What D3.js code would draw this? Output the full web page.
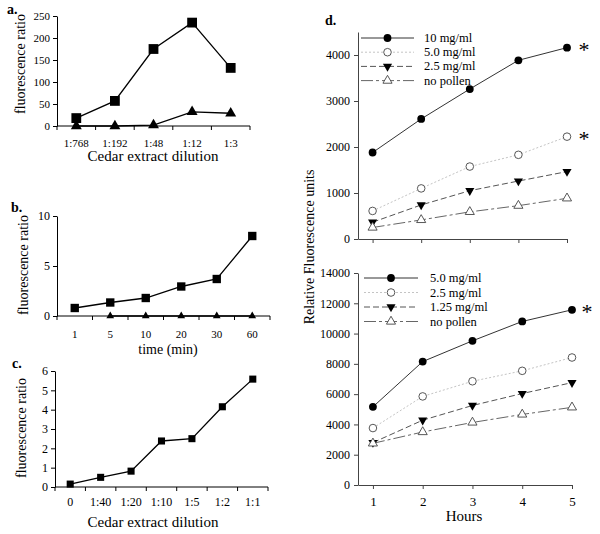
<!DOCTYPE html>
<html><head><meta charset="utf-8">
<script src="https://cdn.jsdelivr.net/npm/d3@7"></script>
<style>
body{margin:0;background:#fff}
svg{display:block}
text{font-family:"Liberation Serif","Times New Roman",serif;fill:#000}
</style>
</head><body>
<svg id="chart" width="600" height="534" font-family="Liberation Serif, Times New Roman, serif"></svg>
<script>
// ---------- DATA ----------
const aCats = ["1:768","1:192","1:48","1:12","1:3"];
const aSquare = [18,57,175,235,132];
const aTriangle = [0,0,2,32,29];
const aTicks = [0,50,100,150,200,250];

const bCats = ["1","5","10","20","30","60"];
const bSquare = [0.8,1.35,1.8,2.95,3.7,8.0];
const bTriangle = [null,0,0,0,0,0];
const bTicks = [0,5,10];

const cCats = ["0","1:40","1:20","1:10","1:5","1:2","1:1"];
const cSquare = [0.15,0.5,0.82,2.38,2.5,4.15,5.58];
const cTicks = [0,1,2,3,4,5,6];

const hours = [1,2,3,4,5];
const dTopLabels = ["10 mg/ml","5.0 mg/ml","2.5 mg/ml","no pollen"];
const dTop10 = [1880,2610,3260,3885,4160];
const dTop5 = [610,1100,1575,1830,2225];
const dTop25 = [365,740,1050,1260,1465];
const dTopNo = [250,415,590,725,885];
const dTopTicks = [0,1000,2000,3000,4000];

const dBotLabels = ["5.0 mg/ml","2.5 mg/ml","1.25 mg/ml","no pollen"];
const dBot5 = [5160,8150,9520,10800,11570];
const dBot25 = [3760,5850,6850,7540,8420];
const dBot125 = [2800,4280,5250,6040,6760];
const dBotNo = [2750,3500,4130,4660,5130];
const dBotTicks = [0,2000,4000,6000,8000,10000,12000,14000];

// ---------- DRAWING ----------
const SERIF = "Liberation Serif, Times New Roman, serif";
const svg = d3.select("#chart");
const fmt = d3.format("d");

function styleAxis(g, color, size){
  g.attr("font-family", SERIF).attr("font-size", size);
  g.selectAll("path.domain").attr("stroke", color).attr("stroke-width",1);
  g.selectAll(".tick line").attr("stroke", color);
  g.selectAll(".tick text").attr("fill","#000").style("font-size", size+"px");
}

function bandPanel(cfg){
  const x = d3.scaleBand().domain(cfg.cats).range([cfg.x0, cfg.x1]);
  const y = d3.scaleLinear().domain([0, cfg.ymax]).range([cfg.y0, cfg.y1]);
  const g = svg.append("g");
  const ya = g.append("g").attr("transform",`translate(${cfg.x0},0)`)
    .call(d3.axisLeft(y).tickValues(cfg.ticks).tickFormat(fmt).tickSize(4).tickSizeOuter(0).tickPadding(3));
  styleAxis(ya,"#000",cfg.yTickFont);
  // x axis line + boundary ticks
  g.append("line").attr("x1",cfg.x0).attr("x2",cfg.x1).attr("y1",cfg.y0).attr("y2",cfg.y0)
    .attr("stroke","#000");
  const bounds = cfg.cats.map(c => x(c)).concat([x.range()[1]]);
  g.selectAll(".bt").data(bounds).enter().append("line")
    .attr("x1",d=>d).attr("x2",d=>d).attr("y1",cfg.y0).attr("y2",cfg.y0+4).attr("stroke","#000");
  const cx = c => x(c) + x.bandwidth()/2;
  g.selectAll(".xl").data(cfg.cats).enter().append("text")
    .attr("x",d=>cx(d)).attr("y",cfg.labelY).attr("text-anchor","middle")
    .style("font-size",cfg.xTickFont+"px").text(d=>d);
  // series
  cfg.series.forEach(s=>{
    const pts = s.values.map((v,i)=>({c:cfg.cats[i], v})).filter(p=>p.v!==null);
    g.append("path").datum(pts)
      .attr("d", d3.line().x(p=>cx(p.c)).y(p=>y(p.v)))
      .attr("fill","none").attr("stroke","#000").attr("stroke-width",1.3);
    g.selectAll(null).data(pts).enter().append("path")
      .attr("transform",p=>`translate(${cx(p.c)},${y(p.v)})`)
      .attr("d", d3.symbol(s.symbol, s.size)())
      .attr("fill","#000");
  });
  // titles
  g.append("text").attr("transform",`translate(${cfg.yTitleX},${cfg.yTitleY}) rotate(-90)`)
    .attr("text-anchor","middle").attr("dominant-baseline","central")
    .style("font-size","14px").text("fluorescence ratio");
  g.append("text").attr("x",cfg.xTitleX).attr("y",cfg.xTitleY).attr("text-anchor","middle")
    .style("font-size",cfg.xTitleFont+"px").text(cfg.xTitle);
  g.append("text").attr("x",cfg.tagX).attr("y",cfg.tagY).style("font-size","14px")
    .style("font-weight","bold").text(cfg.tag);
}

bandPanel({cats:aCats, x0:57, x1:250, y0:126, y1:16, ymax:250, ticks:aTicks, yTickFont:11, xTickFont:11,
  labelY:147, yTitleX:20, yTitleY:64, xTitle:"Cedar extract dilution", xTitleFont:15, xTitleX:153, xTitleY:161,
  tag:"a.", tagX:7, tagY:14,
  series:[{values:aSquare, symbol:d3.symbolSquare, size:96},
          {values:aTriangle, symbol:d3.symbolTriangle, size:52}]});

bandPanel({cats:bCats, x0:57, x1:270, y0:316, y1:216, ymax:10, ticks:bTicks, yTickFont:12, xTickFont:11,
  labelY:338, yTitleX:23, yTitleY:265, xTitle:"time (min)", xTitleFont:14, xTitleX:168, xTitleY:354,
  tag:"b.", tagX:11, tagY:212,
  series:[{values:bSquare, symbol:d3.symbolSquare, size:70},
          {values:bTriangle, symbol:d3.symbolTriangle, size:26}]});

bandPanel({cats:cCats, x0:55, x1:268, y0:487, y1:371, ymax:6, ticks:cTicks, yTickFont:12, xTickFont:12,
  labelY:506, yTitleX:21, yTitleY:428, xTitle:"Cedar extract dilution", xTitleFont:15, xTitleX:153, xTitleY:527,
  tag:"c.", tagX:12, tagY:368,
  series:[{values:cSquare, symbol:d3.symbolSquare, size:50}]});

// ---------- Panel d ----------
const dStyles = [
  {stroke:"#333", dash:null, mark:"fillCircle"},
  {stroke:"#c4c4c4", dash:"2,2", mark:"openCircle"},
  {stroke:"#555", dash:"6,3", mark:"fillDown"},
  {stroke:"#666", dash:"12,3,3,3", mark:"openUp"}
];
function marker(g, type, px, py){
  if(type==="fillCircle") g.append("circle").attr("cx",px).attr("cy",py).attr("r",3.9).attr("fill","#000");
  else if(type==="openCircle") g.append("circle").attr("cx",px).attr("cy",py).attr("r",3.8).attr("fill","#fff").attr("stroke","#444").attr("stroke-width",0.9);
  else if(type==="fillDown") g.append("path").attr("transform",`translate(${px},${py}) rotate(180)`).attr("d",d3.symbol(d3.symbolTriangle,36)()).attr("fill","#000");
  else g.append("path").attr("transform",`translate(${px},${py})`).attr("d",d3.symbol(d3.symbolTriangle,36)()).attr("fill","#fff").attr("stroke","#444").attr("stroke-width",0.9);
}

function dPanel(cfg){
  const x = d3.scaleLinear().domain([0.7,5]).range([cfg.x0,cfg.x1]);
  const y = d3.scaleLinear().domain([0,cfg.ymax]).range([cfg.y0,cfg.y1]);
  const g = svg.append("g");
  const ya = g.append("g").attr("transform",`translate(${cfg.x0},0)`)
    .call(d3.axisLeft(y).tickValues(cfg.ticks).tickFormat(fmt).tickSize(4).tickSizeOuter(0).tickPadding(4));
  styleAxis(ya,"#444",12);
  const xa = g.append("g").attr("transform",`translate(0,${cfg.y0})`)
    .call(d3.axisBottom(x).tickValues(hours).tickSize(4).tickSizeOuter(0).tickPadding(8)
      .tickFormat(cfg.showX ? fmt : () => ""));
  styleAxis(xa,"#444",13);
  cfg.series.forEach((vals,k)=>{
    const st = dStyles[k];
    const p = g.append("path").datum(vals)
      .attr("d", d3.line().x((v,i)=>x(hours[i])).y(v=>y(v)))
      .attr("fill","none").attr("stroke",st.stroke).attr("stroke-width",1);
    if(st.dash) p.attr("stroke-dasharray",st.dash);
  });
  cfg.series.forEach((vals,k)=>{
    vals.forEach((v,i)=>marker(g, dStyles[k].mark, x(hours[i]), y(v)));
  });
  // legend
  cfg.labels.forEach((lab,k)=>{
    const st = dStyles[k], ly = cfg.legY + k*cfg.legStep;
    const l = g.append("line").attr("x1",cfg.legX0).attr("x2",cfg.legX1).attr("y1",ly).attr("y2",ly)
      .attr("stroke",st.stroke).attr("stroke-width",1);
    if(st.dash) l.attr("stroke-dasharray",st.dash);
    marker(g, st.mark, (cfg.legX0+cfg.legX1)/2, ly);
    g.append("text").attr("x",cfg.legText).attr("y",ly).attr("dominant-baseline","central")
      .style("font-size","12.5px").text(lab);
  });
  cfg.stars.forEach(s=>{
    g.append("text").attr("x",cfg.starX).attr("y",y(s)+9).attr("text-anchor","middle")
      .style("font-size","22px").text("*");
  });
}

dPanel({x0:358, x1:567, y0:239, y1:32, ymax:4500, ticks:dTopTicks, showX:false,
  series:[dTop10,dTop5,dTop25,dTopNo], labels:dTopLabels,
  legX0:361, legX1:414, legY:38, legStep:14.2, legText:424,
  stars:[dTop10[4], dTop5[4]], starX:584});

dPanel({x0:358, x1:572, y0:485, y1:273, ymax:14000, ticks:dBotTicks, showX:true,
  series:[dBot5,dBot25,dBot125,dBotNo], labels:dBotLabels,
  legX0:364, legX1:418, legY:278, legStep:14.5, legText:430,
  stars:[dBot5[4]], starX:587});

svg.append("text").attr("x",325).attr("y",25).style("font-size","14px").style("font-weight","bold").text("d.");
svg.append("text").attr("transform","translate(309,247) rotate(-90)").attr("text-anchor","middle")
  .attr("dominant-baseline","central").style("font-size","14px").text("Relative Fluorescence units");
svg.append("text").attr("x",464).attr("y",521).attr("text-anchor","middle").style("font-size","15px").text("Hours");
</script>
</body></html>
